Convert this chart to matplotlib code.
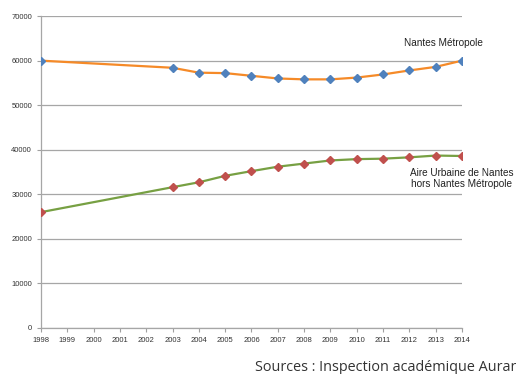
import matplotlib
matplotlib.use("Agg")
import matplotlib.pyplot as plt

years_nm = [1998, 2003, 2004, 2005, 2006, 2007, 2008, 2009, 2010, 2011, 2012, 2013, 2014]
nantes_metropole = [60000, 58400, 57300, 57200, 56600, 56000, 55800, 55800, 56200, 56900, 57800, 58600, 60000]
aire_urbaine = [26000, 31600, 32700, 34150, 35200, 36200, 36900, 37600, 37900, 38000, 38300, 38700, 38600]
year_ticks = list(range(1998, 2015))
y_ticks = [0, 10000, 20000, 30000, 40000, 50000, 60000, 70000]

plt.rcParams['font.family'] = ['Liberation Sans', 'DejaVu Sans']

fig = plt.figure(figsize=(5.16, 3.74), dpi=100)
ax = fig.add_axes([0.0795, 0.123, 0.8158, 0.834])

ax.plot(years_nm, nantes_metropole, color='#F58A28', linewidth=1.6,
        marker='D', markersize=4.5, markerfacecolor='#4F81BD', markeredgecolor='#4F81BD', zorder=3)
ax.plot(years_nm, aire_urbaine, color='#77A043', linewidth=1.6,
        marker='D', markersize=4, markerfacecolor='#C0504D', markeredgecolor='#C0504D', zorder=3)

ax.set_xlim(1998, 2014)
ax.set_ylim(0, 70000)
ax.set_xticks(year_ticks)
ax.set_yticks(y_ticks)
ax.tick_params(axis='both', labelsize=5.5, colors='#333333', length=3, width=0.8)
ax.tick_params(axis='both', color='#A0A0A0')
ax.grid(axis='y', color='#A6A6A6', linewidth=0.9)
ax.set_axisbelow(True)
for side in ['top', 'right']:
    ax.spines[side].set_visible(False)
for side in ['left', 'bottom']:
    ax.spines[side].set_color('#A6A6A6')
    ax.spines[side].set_linewidth(0.9)

# series labels next to the right end of each curve
ax.text(2013.3, 64000, 'Nantes Métropole', fontsize=7.2, color='#222222', ha='center', va='center')
ax.text(2014, 33600, 'Aire Urbaine de Nantes\nhors Nantes Métropole', fontsize=7.2,
        color='#222222', ha='center', va='center', linespacing=1.15, clip_on=False)

fig.text(255 / 516, 1 - 371 / 374, 'Sources : Inspection académique Auran', fontsize=10.4,
         family='Open Sans', color='#333333', ha='left', va='baseline')

fig.savefig('out.png', dpi=100)
